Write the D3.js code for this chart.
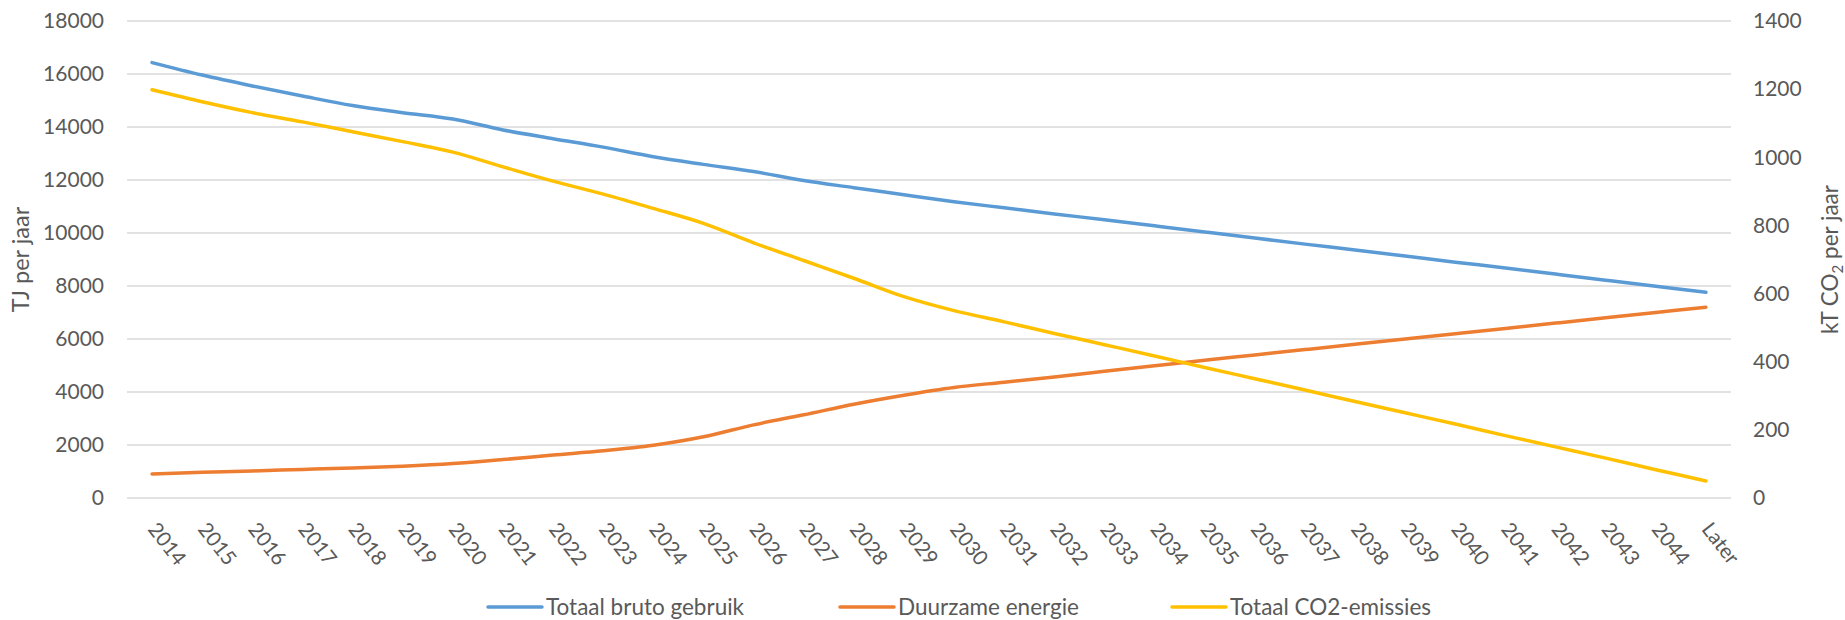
<!DOCTYPE html>
<html>
<head>
<meta charset="utf-8">
<script src="https://cdn.jsdelivr.net/npm/d3@7"></script>
<style>
  html, body { margin: 0; padding: 0; background: #ffffff; }
  svg { display: block; font-family: Lato, "Open Sans", sans-serif; }
</style>
</head>
<body>
<svg id="chart" width="1845" height="620"></svg>
<script>
// Categories along the x axis
const years = ["2014","2015","2016","2017","2018","2019","2020","2021","2022","2023",
  "2024","2025","2026","2027","2028","2029","2030","2031","2032","2033","2034","2035",
  "2036","2037","2038","2039","2040","2041","2042","2043","2044","Later"];

// Energy use in TJ per year (left axis)
const totaalBruto = [16430,15960,15550,15170,14810,14540,14300,13890,13560,13240,
  12880,12590,12320,11980,11710,11440,11180,10950,10720,10500,10270,10040,
  9810,9580,9360,9130,8900,8680,8450,8220,7990,7760];
const duurzaam = [905,970,1020,1080,1130,1200,1300,1450,1620,1780,
  1990,2310,2760,3140,3540,3880,4170,4370,4570,4780,4990,5200,
  5400,5600,5800,6000,6200,6400,6600,6800,7000,7200];

// CO2 emissions in kT per year (right axis)
const co2 = [1198,1163,1131,1104,1075,1046,1015,972,930,892,
  850,806,749,697,645,591,550,517,483,450,417,383,
  350,317,283,250,217,183,150,117,83,50];

const leftTicks = [0,2000,4000,6000,8000,10000,12000,14000,16000,18000];
const rightTicks = [0,200,400,600,800,1000,1200,1400];

const seriesNames = ["Totaal bruto gebruik","Duurzame energie","Totaal CO2-emissies"];
const seriesColors = ["#5B9BD5","#ED7D31","#FFC000"];

const svg = d3.select("#chart");
const textColor = "#595959";

const plot = { left: 127, right: 1731, top: 21, bottom: 498 };

const x = d3.scalePoint().domain(years).range([plot.left, plot.right]).padding(0.5);
const yLeft = d3.scaleLinear().domain([0, 18000]).range([plot.bottom, plot.top]);
const yRight = d3.scaleLinear().domain([0, 1400]).range([plot.bottom, plot.top]);

// Horizontal gridlines
svg.append("g")
  .selectAll("line")
  .data(leftTicks)
  .join("line")
  .attr("x1", plot.left).attr("x2", plot.right)
  .attr("y1", d => yLeft(d)).attr("y2", d => yLeft(d))
  .attr("stroke", "#D9D9D9").attr("stroke-width", 1.3);

// Left axis
const leftAxis = svg.append("g")
  .attr("transform", `translate(${plot.left - 23},0)`)
  .call(d3.axisLeft(yLeft).tickValues(leftTicks).tickSize(0).tickPadding(0).tickFormat(d3.format("d")));
leftAxis.select(".domain").remove();
leftAxis.selectAll("text")
  .attr("fill", textColor).attr("font-size", 21).attr("font-family", "Lato, sans-serif");

// Right axis
const rightAxis = svg.append("g")
  .attr("transform", `translate(${plot.right + 22},0)`)
  .call(d3.axisRight(yRight).tickValues(rightTicks).tickSize(0).tickPadding(0).tickFormat(d3.format("d")));
rightAxis.select(".domain").remove();
rightAxis.selectAll("text")
  .attr("fill", textColor).attr("font-size", 21).attr("font-family", "Lato, sans-serif");

// Rotated category labels
const xAxis = svg.append("g")
  .attr("transform", `translate(0,${plot.bottom + 27})`)
  .call(d3.axisBottom(x).tickSize(0).tickPadding(0));
xAxis.select(".domain").remove();
xAxis.selectAll("text")
  .attr("fill", textColor).attr("font-size", 20.5).attr("font-family", "Lato, sans-serif")
  .attr("text-anchor", "start")
  .attr("dy", "0.35em")
  .attr("y", 0)
  .attr("transform", "rotate(52)");

// Axis titles
svg.append("text")
  .attr("transform", `translate(29,${(plot.top + plot.bottom) / 2}) rotate(-90)`)
  .attr("text-anchor", "middle")
  .attr("fill", textColor).attr("font-size", 23.5)
  .text("TJ per jaar");

const rTitle = svg.append("text")
  .attr("transform", `translate(1838,${(plot.top + plot.bottom) / 2}) rotate(-90)`)
  .attr("text-anchor", "middle")
  .attr("fill", textColor).attr("font-size", 22.5);
rTitle.append("tspan").text("kT CO");
rTitle.append("tspan").attr("font-size", 15).attr("dy", 5).text("2");
rTitle.append("tspan").attr("dy", -5).text(" per jaar");

// Series lines
const lineLeft = d3.line()
  .x((d, i) => x(years[i]))
  .y(d => yLeft(d))
  .curve(d3.curveCatmullRom.alpha(0.5));
const lineRight = d3.line()
  .x((d, i) => x(years[i]))
  .y(d => yRight(d))
  .curve(d3.curveCatmullRom.alpha(0.5));

const series = [
  { values: totaalBruto, line: lineLeft, color: seriesColors[0] },
  { values: duurzaam, line: lineLeft, color: seriesColors[1] },
  { values: co2, line: lineRight, color: seriesColors[2] }
];

svg.append("g")
  .selectAll("path")
  .data(series)
  .join("path")
  .attr("d", s => s.line(s.values))
  .attr("fill", "none")
  .attr("stroke", s => s.color)
  .attr("stroke-width", 3.5)
  .attr("stroke-linecap", "round")
  .attr("stroke-linejoin", "round");

// Legend
const legendX = [488, 840, 1172];
const legend = svg.append("g").attr("transform", "translate(0,607)");
const items = legend.selectAll("g")
  .data(seriesNames)
  .join("g")
  .attr("transform", (d, i) => `translate(${legendX[i]},0)`);
items.append("line")
  .attr("x1", 0).attr("x2", 54)
  .attr("y1", 0).attr("y2", 0)
  .attr("stroke", (d, i) => seriesColors[i])
  .attr("stroke-width", 3.5)
  .attr("stroke-linecap", "round");
items.append("text")
  .attr("x", 58).attr("dy", "0.35em")
  .attr("fill", textColor).attr("font-size", 22.5)
  .text(d => d);
</script>
</body>
</html>
